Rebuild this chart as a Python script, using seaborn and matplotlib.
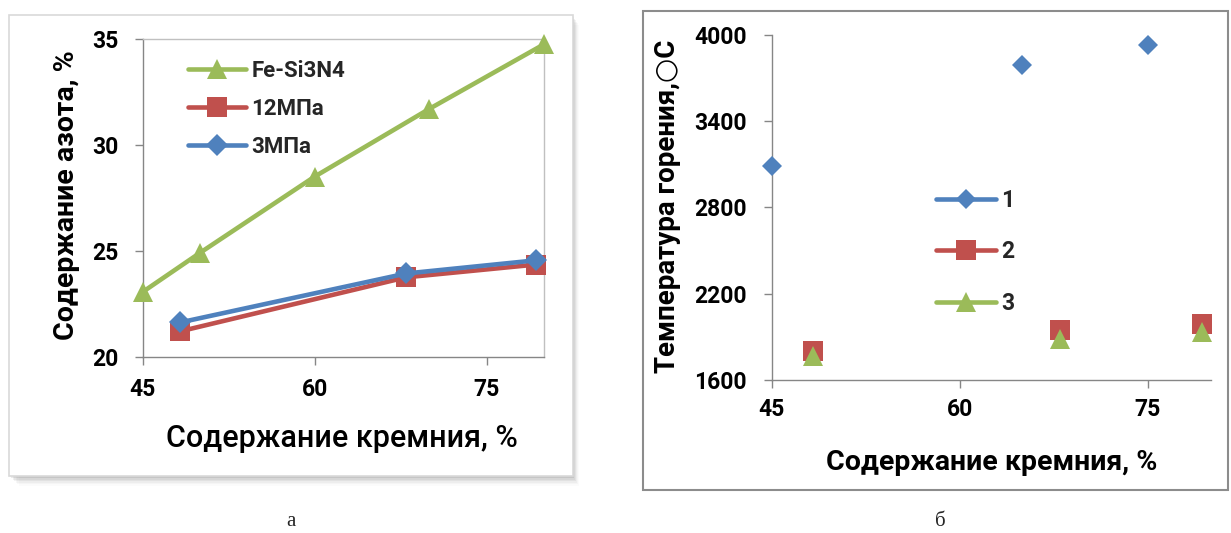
import matplotlib
matplotlib.use("Agg")
import matplotlib.pyplot as plt
import seaborn as sns
from matplotlib.lines import Line2D
from matplotlib.patches import Rectangle

# ---------------- data ----------------
# panel a
si_fe = [45, 50, 60, 70, 80]
n_fe = [23.05, 24.9, 28.5, 31.7, 34.75]
si_12 = [48.3, 68, 79.3]
n_12 = [21.2, 23.75, 24.35]
si_3 = [48.3, 68, 79.3]
n_3 = [21.62, 23.93, 24.55]
labels_a = ["Fe-Si3N4", "12МПа", "3МПа"]
xticks_a = [45, 60, 75]
yticks_a = [20, 25, 30, 35]

# panel b
si_1 = [45, 65, 75]
t_1 = [3090, 3790, 3930]
si_2 = [48.3, 68, 79.3]
t_2 = [1800, 1950, 1990]
si_3b = [48.3, 68, 79.3]
t_3 = [1765, 1885, 1935]
labels_b = ["1", "2", "3"]
xticks_b = [45, 60, 75]
yticks_b = [1600, 2200, 2800, 3400, 4000]

BLUE = "#4F81BD"
RED = "#C0504D"
GREEN = "#9BBB59"

sns.set_theme(style="white")
plt.rcParams["font.family"] = ["Roboto", "DejaVu Sans"]

W, H = 1231, 533
fig = plt.figure(figsize=(W / 100, H / 100), dpi=100)
fig.patch.set_facecolor("white")


def px_rect(x0, y0, x1, y1, **kw):
    return Rectangle((x0 / W, 1 - y1 / H), (x1 - x0) / W, (y1 - y0) / H,
                     transform=fig.transFigure, **kw)


# frame a with shadow
for i, a in enumerate([0.10, 0.08, 0.06, 0.04, 0.03, 0.02]):
    d = 2 + i * 1.5
    fig.patches.append(px_rect(9 + d, 15 + d, 573 + d * 0.6, 476 + d,
                               facecolor="#404040", edgecolor="none", alpha=a, zorder=-3))
fig.patches.append(px_rect(9, 15, 573, 476, facecolor="white",
                           edgecolor="#d9d9d9", linewidth=1.2, zorder=-2))
# frame b
fig.patches.append(px_rect(643, 11, 1228, 490, facecolor="white",
                           edgecolor="#8c8c8c", linewidth=1.5, zorder=-2))

# ---------------- panel a ----------------
axa = fig.add_axes([142.5 / W, 1 - 356.7 / H, 401.5 / W, 317.7 / H])
axa.set_facecolor("none")
lw = 3.3
sns.lineplot(x=si_fe, y=n_fe, ax=axa, color=GREEN, linewidth=lw, marker="^",
             markersize=15, markeredgewidth=0, zorder=3, clip_on=False)
sns.lineplot(x=si_12, y=n_12, ax=axa, color=RED, linewidth=lw, marker="s",
             markersize=14, markeredgewidth=0, zorder=3, clip_on=False)
sns.lineplot(x=si_3, y=n_3, ax=axa, color=BLUE, linewidth=lw, marker="D",
             markersize=11, markeredgewidth=0, zorder=4, clip_on=False)
axa.set_xlim(45, 80)
axa.set_ylim(20, 35)
axa.set_xticks(xticks_a)
axa.set_yticks(yticks_a)
for s in ["left", "bottom"]:
    axa.spines[s].set_color("#868686")
    axa.spines[s].set_linewidth(1.0)
for s in ["top", "right"]:
    axa.spines[s].set_visible(True)
    axa.spines[s].set_color("#c0c0c0")
    axa.spines[s].set_linewidth(1.0)
axa.tick_params(axis="both", which="major", direction="out", length=6, width=1,
                color="#868686", labelsize=16.5, labelcolor="black",
                bottom=True, left=True, top=False, right=False)
axa.tick_params(axis="x", pad=9)
axa.tick_params(axis="y", pad=11)
for t in axa.get_xticklabels() + axa.get_yticklabels():
    t.set_fontweight("bold")
axa.set_xlabel("Содержание кремния, %", fontsize=22, fontweight="medium",
               color="black")
axa.xaxis.set_label_coords(0.497, -0.256)
axa.xaxis.label.set_va("center")
axa.set_ylabel("Содержание азота, %", fontsize=20.5, fontweight="bold", color="black")
axa.yaxis.set_label_coords(-0.19, 0.509)
axa.yaxis.label.set_va("center")

ha = [Line2D([], [], color=GREEN, lw=lw, marker="^", markersize=15, markeredgewidth=0),
      Line2D([], [], color=RED, lw=lw, marker="s", markersize=14, markeredgewidth=0),
      Line2D([], [], color=BLUE, lw=lw, marker="D", markersize=11, markeredgewidth=0)]
lega = axa.legend(ha, labels_a, loc="upper left", bbox_to_anchor=(0.113, 0.935),
                  frameon=False, borderpad=0, borderaxespad=0, handlelength=2.6,
                  handletextpad=0.25, labelspacing=0.72,
                  prop={"size": 16, "weight": "bold"}, numpoints=1)

# ---------------- panel b ----------------
axb = fig.add_axes([771.5 / W, 1 - 380 / H, 439.2 / W, 345 / H])
axb.set_facecolor("none")
sns.lineplot(x=si_1, y=t_1, ax=axb, color=BLUE, linestyle="", marker="D",
             markersize=10, markeredgewidth=0, zorder=3, clip_on=False)
sns.lineplot(x=si_2, y=t_2, ax=axb, color=RED, linestyle="", marker="s",
             markersize=14, markeredgewidth=0, zorder=3, clip_on=False)
sns.lineplot(x=si_3b, y=t_3, ax=axb, color=GREEN, linestyle="", marker="^",
             markersize=14, markeredgewidth=0, zorder=4, clip_on=False)
axb.set_xlim(45, 80)
axb.set_ylim(1600, 4000)
axb.set_xticks(xticks_b)
axb.set_yticks(yticks_b)
for s in ["left", "bottom"]:
    axb.spines[s].set_color("#868686")
    axb.spines[s].set_linewidth(1.0)
for s in ["top", "right"]:
    axb.spines[s].set_visible(False)
axb.tick_params(axis="both", which="major", direction="out", length=6, width=1,
                color="#868686", labelsize=16.5, labelcolor="black",
                bottom=True, left=True, top=False, right=False)
axb.tick_params(axis="x", pad=7)
axb.tick_params(axis="y", pad=12)
for t in axb.get_xticklabels() + axb.get_yticklabels():
    t.set_fontweight("bold")
axb.set_xlabel("Содержание кремния, %", fontsize=20.5, fontweight="bold", color="black")
axb.xaxis.set_label_coords(0.501, -0.238)
axb.xaxis.label.set_va("center")
axb.set_ylabel("Температура горения,○С", fontsize=20, fontweight="bold", color="black")
axb.yaxis.set_label_coords(-0.236, 0.504)
axb.yaxis.label.set_va("center")

lw_b = 3.3
hb = [Line2D([], [], color=BLUE, lw=lw_b, marker="D", markersize=10, markeredgewidth=0),
      Line2D([], [], color=RED, lw=lw_b, marker="s", markersize=14, markeredgewidth=0),
      Line2D([], [], color=GREEN, lw=lw_b, marker="^", markersize=14, markeredgewidth=0)]
legb = axb.legend(hb, labels_b, loc="upper left", bbox_to_anchor=(0.3745, 0.555),
                  frameon=False, borderpad=0, borderaxespad=0, handlelength=2.6,
                  handletextpad=0.25, labelspacing=1.25,
                  prop={"size": 16.5, "weight": "bold"}, numpoints=1)

# captions
fig.text(291 / W, 1 - 522 / H, "а", ha="center", va="center", fontsize=15,
         family=["Liberation Serif", "DejaVu Serif"])
fig.text(940 / W, 1 - 522 / H, "б", ha="center", va="center", fontsize=15,
         family=["Liberation Serif", "DejaVu Serif"])

fig.savefig("out.png", dpi=100, facecolor="white")
